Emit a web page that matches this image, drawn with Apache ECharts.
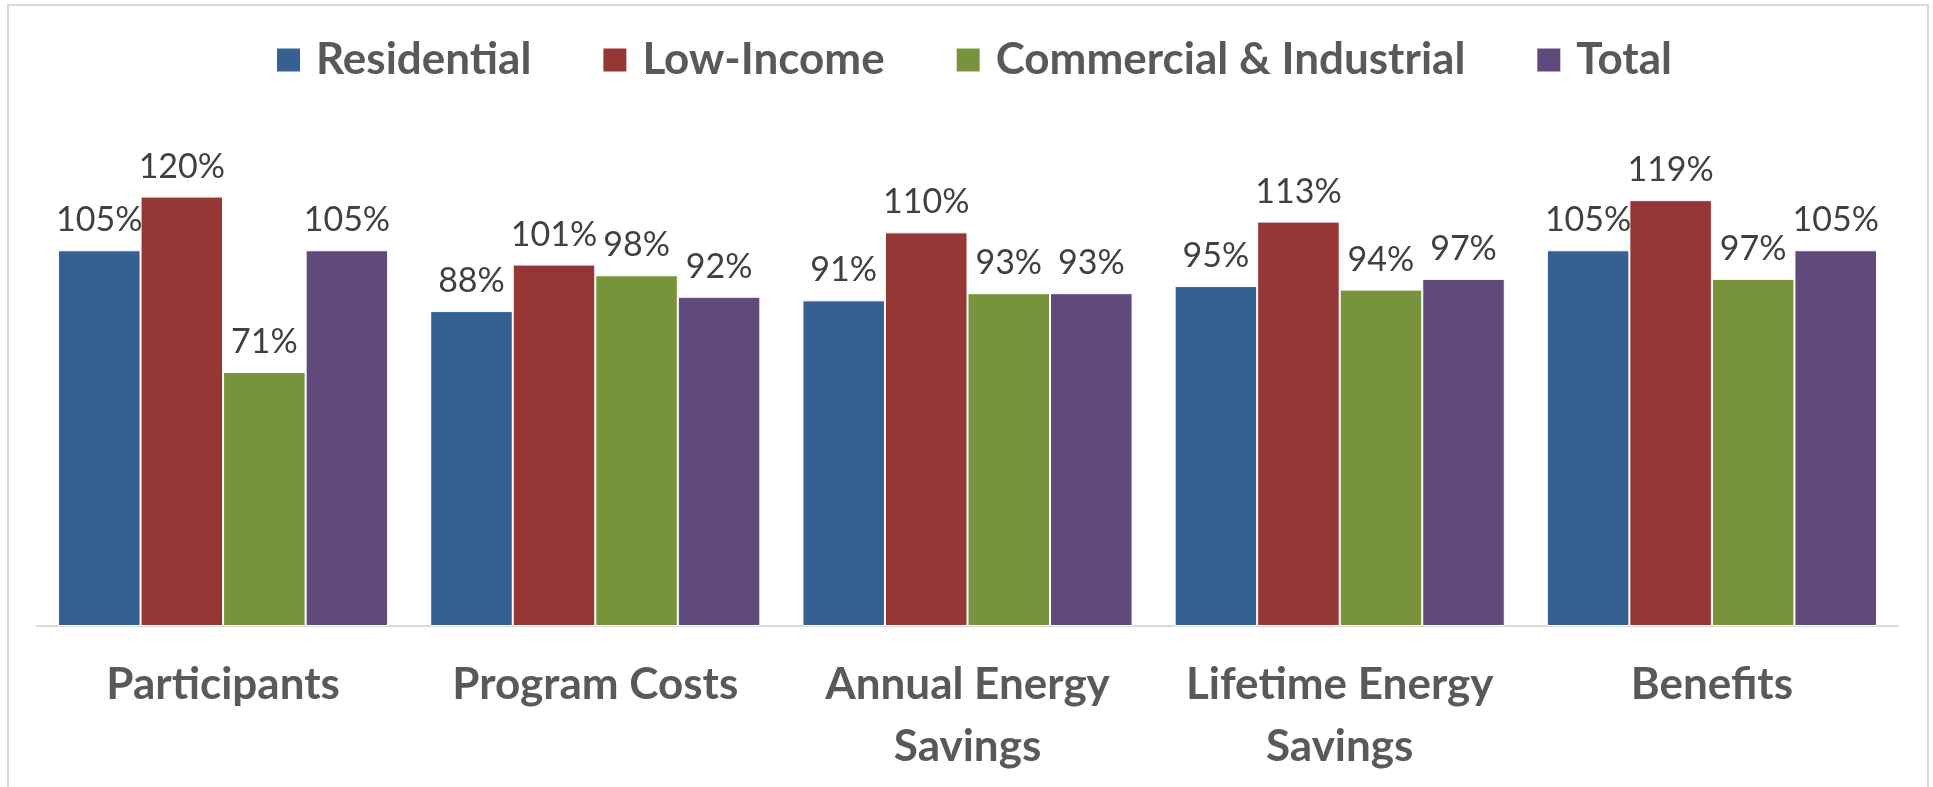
<!DOCTYPE html>
<html>
<head>
<meta charset="utf-8">
<script src="https://cdn.jsdelivr.net/npm/echarts@6/dist/echarts.min.js"></script>
<style>
    html, body { margin: 0; padding: 0; background: #fff; }
    #chart { width: 1933px; height: 787px; }
</style>
</head>
<body>
<div id="chart"></div>
<script>
// categories along the x axis
var categories = ['Participants', 'Program Costs', 'Annual Energy\nSavings', 'Lifetime Energy\nSavings', 'Benefits']

// percent of goal, per sector
var residential = [105, 88, 91, 95, 105]
var lowIncome = [120, 101, 110, 113, 119]
var commercial = [71, 98, 93, 94, 97]
var total = [105, 92, 93, 97, 105]

var seriesNames = ['Residential', 'Low-Income', 'Commercial & Industrial', 'Total']
var colors = ['#376092', '#953735', '#77933c', '#604a7b']

var myChart = echarts.init(document.getElementById('chart'))

var makeBar = function(name, data, color) {
    return {
        name: name,
        type: 'bar',
        data: data,
        barGap: '0%',
        barCategoryGap: '11.3%',
        itemStyle: {
            color: color,
            borderColor: '#fff',
            borderWidth: 1,
        },
        label: {
            show: true,
            position: 'top',
            distance: 13,
            formatter: '{c}%',
            fontFamily: 'Lato',
            fontSize: 34,
            color: '#404040',
        },
    }
}

var option = {
    animation: false,
    color: colors,
    legend: {
        top: 33,
        left: 270,
        itemWidth: 25,
        itemHeight: 25,
        itemGap: 70,
        icon: 'rect',
        textStyle: {
            fontFamily: 'Lato',
            fontWeight: 'bold',
            fontSize: 44,
            color: '#595959',
            padding: [0, 0, 0, 10],
        },
        data: seriesNames,
    },
    grid: {
        left: 37,
        right: 35,
        top: 125,
        bottom: 161,
    },
    xAxis: {
        type: 'category',
        data: categories,
        axisTick: { show: false },
        axisLine: {
            lineStyle: { color: '#d9d9d9', width: 2 },
        },
        axisLabel: {
            interval: 0,
            margin: 28,
            fontFamily: 'Lato',
            fontWeight: 'bold',
            fontSize: 44,
            lineHeight: 62,
            color: '#595959',
        },
    },
    yAxis: {
        type: 'value',
        min: 0,
        max: 140,
        show: false,
        splitLine: { show: false },
    },
    graphic: [
        {
            type: 'rect',
            shape: { x: 8, y: 5, width: 1920, height: 900 },
            style: { fill: 'none', stroke: '#d9d9d9', lineWidth: 2 },
            silent: true,
        },
    ],
    series: [
        makeBar(seriesNames[0], residential, colors[0]),
        makeBar(seriesNames[1], lowIncome, colors[1]),
        makeBar(seriesNames[2], commercial, colors[2]),
        makeBar(seriesNames[3], total, colors[3]),
    ],
}

myChart.setOption(option)
</script>
</body>
</html>
